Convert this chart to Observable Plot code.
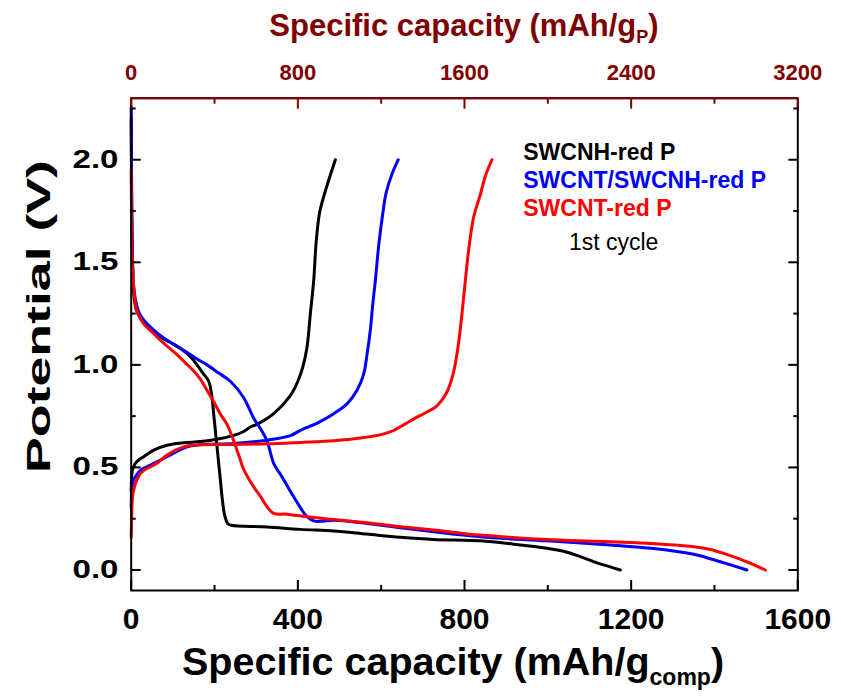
<!DOCTYPE html>
<html><head><meta charset="utf-8">
<script src="https://cdn.jsdelivr.net/npm/d3@7"></script>
<script src="https://cdn.jsdelivr.net/npm/@observablehq/plot@0.6"></script>
<style>
body{margin:0;background:#fff;}
#chart svg text{font-family:"Liberation Sans", Arial, sans-serif;}
</style></head><body><div id="chart"></div>
<script>
// ---- series ----
const seriesNames = ["SWCNH-red P", "SWCNT/SWCNH-red P", "SWCNT-red P"];
const seriesColors = ["#000000", "#0000ff", "#ff0000"];

// SWCNH-red P
const swcnhDisX = [0,1,3,6,12,25,46,75,102,125,142,158,172,186,194,198,202,206,210,214,218,224,232,240,326,406,486,566,646,726,838,918,998,1040,1078,1118,1150,1174];
const swcnhDisV = [2.2,1.8,1.5,1.35,1.27,1.22,1.17,1.13,1.10,1.07,1.04,1.0,0.96,0.92,0.84,0.76,0.68,0.60,0.52,0.44,0.357,0.27,0.225,0.218,0.21,0.198,0.19,0.175,0.16,0.149,0.142,0.126,0.106,0.09,0.065,0.035,0.015,0.0];
const swcnhChgX = [0,1,3,6,10,20,30,54,86,126,166,206,246,270,286,302,342,382,400,412,422,430,438,444,452,462,474,490];
const swcnhChgV = [0.38,0.45,0.49,0.503,0.52,0.54,0.552,0.584,0.608,0.62,0.626,0.637,0.656,0.675,0.697,0.71,0.762,0.85,0.92,0.99,1.086,1.25,1.41,1.6,1.74,1.82,1.90,2.0];

// SWCNT/SWCNH-red P
const mixDisX = [0,1,3,6,10,20,38,60,86,115,142,165,182,210,238,270,294,310,326,342,362,390,422,440,460,486,566,646,726,838,998,1158,1254,1310,1358,1414,1478];
const mixDisV = [2.26,1.9,1.55,1.38,1.32,1.25,1.2,1.16,1.12,1.085,1.05,1.02,1.0,0.96,0.92,0.84,0.74,0.69,0.63,0.52,0.454,0.357,0.26,0.238,0.238,0.243,0.227,0.206,0.186,0.162,0.142,0.121,0.105,0.09,0.073,0.04,0.0];
const mixChgX = [0,1,3,6,12,22,50,86,134,166,246,326,382,406,450,486,518,542,558,566,574,580,586,594,604,612,626,641];
const mixChgV = [0.3,0.38,0.42,0.44,0.46,0.486,0.515,0.552,0.6,0.61,0.617,0.633,0.655,0.681,0.72,0.762,0.81,0.876,0.955,1.05,1.17,1.3,1.41,1.58,1.74,1.84,1.93,2.0];

// SWCNT-red P
const swcntDisX = [0,1,3,6,10,14,30,50,70,90,110,130,150,166,182,198,214,230,246,258,270,294,310,326,342,374,422,486,566,646,726,838,998,1118,1238,1350,1390,1422,1478,1522];
const swcntDisV = [1.95,1.7,1.5,1.38,1.3,1.26,1.2,1.16,1.12,1.085,1.05,1.01,0.97,0.93,0.876,0.82,0.76,0.71,0.63,0.56,0.49,0.405,0.36,0.308,0.276,0.272,0.259,0.246,0.23,0.211,0.195,0.17,0.149,0.14,0.13,0.113,0.1,0.081,0.04,0.0];
const swcntChgX = [0,1,2,4,6,10,22,30,62,86,126,160,246,326,406,486,550,600,630,660,686,710,734,756,772,784,794,802,810,822,838,850,866];
const swcntChgV = [0.16,0.25,0.32,0.37,0.39,0.42,0.47,0.485,0.52,0.56,0.6,0.61,0.612,0.615,0.622,0.63,0.643,0.66,0.68,0.715,0.745,0.77,0.8,0.86,0.95,1.08,1.25,1.41,1.56,1.72,1.83,1.92,2.0];

// ---- axes ----
const xDomain = [0, 1600];
const yDomain = [-0.1, 2.3];
const xMajor = [0, 400, 800, 1200, 1600];
const xMinor = [200, 600, 1000, 1400];
const topRatio = 2; // mAh/g_P = 2 x mAh/g_comp
const topMajor = [0, 800, 1600, 2400, 3200];
const topMinor = [400, 1200, 2000, 2800];
const yMajor = [0, 0.5, 1.0, 1.5, 2.0];
const yMinor = [0.25, 0.75, 1.25, 1.75, 2.25];
const topColor = "#800000";

const legendX = 941;
const legendTopV = 2.0;
const legendStepV = 0.137;
const cycleLabel = "1st cycle";
const cycleX = 1158;
const cycleV = 1.558;

// ---- build rows ----
const branches = [
  [seriesNames[0], "dis", swcnhDisX, swcnhDisV],
  [seriesNames[0], "chg", swcnhChgX, swcnhChgV],
  [seriesNames[1], "dis", mixDisX, mixDisV],
  [seriesNames[1], "chg", mixChgX, mixChgV],
  [seriesNames[2], "dis", swcntDisX, swcntDisV],
  [seriesNames[2], "chg", swcntChgX, swcntChgV]
];
const rows = branches.flatMap(([series, kind, xs, vs]) =>
  xs.map((c, i) => ({series, key: series + kind, cap: c, v: vs[i]})));
const legendRows = seriesNames.map((name, i) => ({name, i}));

const font = "Liberation Sans, Arial, sans-serif";
const plot = Plot.plot({
  width: 841, height: 697,
  marginLeft: 130.7, marginRight: 43.7, marginTop: 97.7, marginBottom: 107,
  x: {domain: xDomain},
  y: {domain: yDomain},
  color: {domain: seriesNames, range: seriesColors},
  style: {fontFamily: font, background: "#fff", overflow: "visible"},
  marks: [
    Plot.line(rows, {x: "cap", y: "v", z: "key", stroke: "series", strokeWidth: 3, curve: "catmull-rom"}),
    Plot.frame({stroke: "#000", strokeWidth: 2}),
    Plot.ruleY([yDomain[1]], {stroke: topColor, strokeWidth: 2}),
    Plot.axisX(xMajor, {anchor: "bottom", tickSize: -10, tickPadding: 27, tickFormat: d => String(d), fontSize: 30, fontWeight: "bold", strokeWidth: 2, label: null, color: "#000"}),
    Plot.axisX(xMinor, {anchor: "bottom", tickSize: -5, tickFormat: () => "", strokeWidth: 2, label: null, color: "#000"}),
    Plot.axisX(topMajor.map(d => d / topRatio), {anchor: "top", tickSize: -10, tickPadding: 28, tickFormat: d => String(d * topRatio), fontSize: 22, fontWeight: "bold", strokeWidth: 2, label: null, color: topColor}),
    Plot.axisX(topMinor.map(d => d / topRatio), {anchor: "top", tickSize: -5, tickFormat: () => "", strokeWidth: 2, label: null, color: topColor}),
    Plot.axisY(yMajor, {anchor: "left", tickSize: -10, tickPadding: 22.7, tickFormat: d3.format(".1f"), fontSize: 25, fontWeight: "bold", strokeWidth: 2, label: null, color: "#000"}),
    Plot.axisY(yMinor, {anchor: "left", tickSize: -5, tickFormat: () => "", strokeWidth: 2, label: null, color: "#000"}),
    Plot.axisY(yMajor, {anchor: "right", tickSize: -10, tickFormat: () => "", strokeWidth: 2, label: null, color: "#000"}),
    Plot.axisY(yMinor, {anchor: "right", tickSize: -5, tickFormat: () => "", strokeWidth: 2, label: null, color: "#000"}),
    Plot.text(legendRows, {x: () => legendX, y: d => legendTopV - d.i * legendStepV, text: "name", fill: "name", textAnchor: "start", lineAnchor: "bottom", fontSize: 23, fontWeight: "bold"}),
    Plot.text([cycleLabel], {x: () => cycleX, y: () => cycleV, text: d => d, fill: "#000", textAnchor: "middle", lineAnchor: "bottom", fontSize: 23})
  ]
});
document.getElementById("chart").appendChild(plot);

// stretched y tick labels (as in the original figure)
const svg = d3.select(plot);
svg.selectAll('g[aria-label="y-axis tick label"] text')
  .filter(function() { return this.textContent.length > 0; })
  .attr("textLength", 46).attr("lengthAdjust", "spacingAndGlyphs");

// titles
const xr = plot.scale("x").range;
const topT = svg.append("text").attr("x", (xr[0] + xr[1]) / 2).attr("y", 36)
  .attr("text-anchor", "middle").attr("font-size", 31).attr("font-weight", "bold")
  .attr("fill", topColor).attr("font-family", font);
topT.append("tspan").text("Specific capacity (mAh/g");
topT.append("tspan").attr("font-size", 18).attr("dy", 7).text("P");
topT.append("tspan").attr("dy", -7).text(")");

const botT = svg.append("text").attr("x", 182).attr("y", 675)
  .attr("text-anchor", "start").attr("font-size", 39.5).attr("font-weight", "bold")
  .attr("fill", "#000").attr("font-family", font);
botT.append("tspan").text("Specific capacity (mAh/g");
botT.append("tspan").attr("font-size", 23).attr("dy", 10).text("comp");
botT.append("tspan").attr("dy", -10).text(")");

svg.append("text").attr("transform", "translate(50,316.5) rotate(-90)")
  .attr("text-anchor", "middle").attr("font-size", 34).attr("font-weight", "bold")
  .attr("textLength", 313).attr("lengthAdjust", "spacingAndGlyphs")
  .attr("fill", "#000").attr("font-family", font).text("Potential (V)");
</script></body></html>
